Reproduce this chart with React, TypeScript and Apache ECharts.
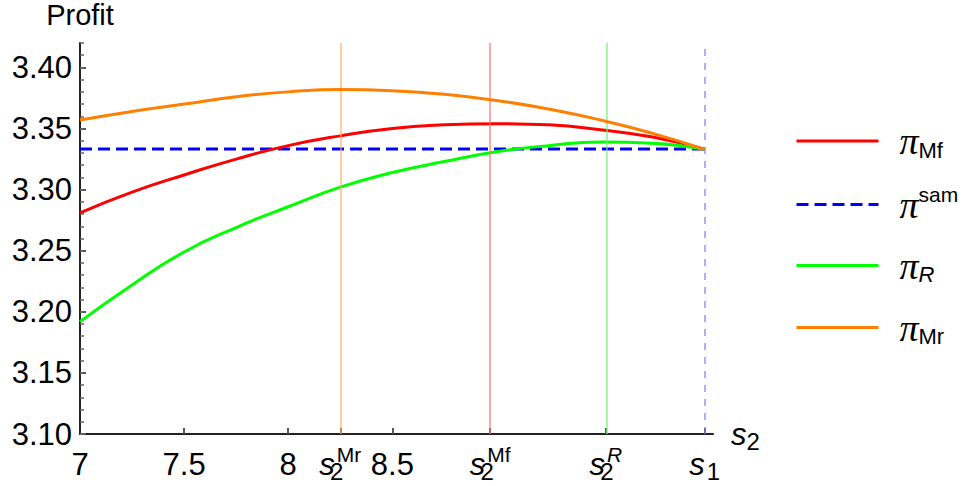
import React, { useEffect, useRef } from 'react';
import * as echarts from 'echarts';

// ---- data ----
const xValues = [7, 7.25, 7.5, 7.75, 8, 8.25, 8.5, 8.75, 9, 9.25, 9.5, 9.75, 10];
const profitMf = [3.281, 3.298, 3.312, 3.325, 3.336, 3.344, 3.350, 3.353, 3.354, 3.353, 3.349, 3.343, 3.333];
const profitSam = [3.3333, 3.3333, 3.3333, 3.3333, 3.3333, 3.3333, 3.3333, 3.3333, 3.3333, 3.3333, 3.3333, 3.3333, 3.3333];
const profitR = [3.192, 3.222, 3.249, 3.269, 3.286, 3.302, 3.314, 3.323, 3.331, 3.336, 3.339, 3.338, 3.333];
const profitMr = [3.357, 3.364, 3.370, 3.376, 3.380, 3.382, 3.381, 3.378, 3.373, 3.366, 3.357, 3.346, 3.333];

const s2Mr = 8.25;
const s2Mf = 8.97;
const s2R = 9.525;
const s1 = 10;

const xTickValues = [7, 7.5, 8, s2Mr, 8.5, s2Mf, s2R, s1];
const xTickLabels = [
  '{n|7}',
  '{n|7.5}',
  '{n|8}',
  '{s|s}{gap| }{sub|2}{sup|Mr}',
  '{n|8.5}',
  '{s|s}{gap| }{sub|2}{sup|Mf}',
  '{s|s}{gap| }{sub|2}{supi|R}',
  '{s|s}{gap| }{subw|1}',
];
const yTickValues = [3.1, 3.15, 3.2, 3.25, 3.3, 3.35, 3.4];

const seriesNames = ['πMf', 'πsam', 'πR', 'πMr'];
const legendLabels = ['{pi|π}{sub|Mf}', '{pi|π}{sup|sam}', '{pi|π}{subi|R}', '{pi|π}{sub|Mr}'];

const SANS = '"Liberation Sans", Arial, sans-serif';
const SERIF = '"Liberation Serif", "DejaVu Serif", serif';

function pairs(ys: number[]) {
  return xValues.map((x, i) => [x, ys[i]]);
}

export default function App() {
  const ref = useRef<HTMLDivElement>(null);

  useEffect(() => {
    if (!ref.current) return;
    const chart = echarts.init(ref.current, undefined, { renderer: 'svg' });

    const vLine = (x: number, color: string, dashed = false) => ({
      silent: true,
      symbol: ['none', 'none'],
      label: { show: false },
      lineStyle: { color, width: 2, type: dashed ? [7, 7] : 'solid' },
      data: [{ xAxis: x }],
    });

    const option: any = {
      animation: false,
      backgroundColor: '#fff',
      textStyle: { fontFamily: SANS },
      grid: { left: 80, right: 266, top: 42, bottom: 52 },
      legend: {
        orient: 'vertical',
        left: 795,
        top: 122,
        padding: 0,
        itemWidth: 82,
        itemHeight: 6,
        itemGap: 23,
        data: seriesNames,
        itemStyle: { opacity: 0 },
        lineStyle: { width: 3 },
        formatter: (name: string) => legendLabels[seriesNames.indexOf(name)],
        textStyle: {
          color: '#000',
          rich: {
            pi: { fontFamily: SERIF, fontStyle: 'italic', fontSize: 38, color: '#000', padding: [0, 0, 0, 16], lineHeight: 42 },
            sub: { fontFamily: SANS, fontSize: 22, color: '#000', verticalAlign: 'bottom', height: 24 },
            subi: { fontFamily: SANS, fontSize: 22, fontStyle: 'italic', color: '#000', verticalAlign: 'bottom', height: 24 },
            sup: { fontFamily: SANS, fontSize: 21, color: '#000', verticalAlign: 'top', height: 22 },
          },
        },
      },
      xAxis: {
        type: 'value',
        min: 7,
        max: 10.04,
        name: '{s|s}{subw|2}',
        nameLocation: 'end',
        nameGap: 18,
        nameTextStyle: {
          rich: {
            s: { fontFamily: SANS, fontSize: 31, fontStyle: 'italic', color: '#000', lineHeight: 40 },
            subw: { fontFamily: SANS, fontSize: 24, color: '#000', verticalAlign: 'bottom', height: 25 },
          },
        },
        axisLine: { show: true, lineStyle: { color: '#222', width: 2 } },
        axisTick: {
          show: true,
          inside: true,
          length: 6,
          customValues: xTickValues.slice(1),
          lineStyle: { color: '#555', width: 2 },
        },
        splitLine: { show: false },
        axisLabel: {
          show: true,
          customValues: xTickValues,
          margin: 10,
          formatter: (v: number) => {
            const i = xTickValues.findIndex((t) => Math.abs(t - v) < 1e-6);
            return i >= 0 ? xTickLabels[i] : '';
          },
          rich: {
            n: { fontFamily: SANS, fontSize: 31, color: '#000', lineHeight: 40 },
            s: { fontFamily: SANS, fontSize: 31, fontStyle: 'italic', color: '#000', lineHeight: 40 },
            gap: { fontFamily: SANS, fontSize: 4, width: 2, color: '#000' },
            sub: { fontFamily: SANS, fontSize: 24, color: '#000', width: 0, verticalAlign: 'bottom', height: 25 },
            subw: { fontFamily: SANS, fontSize: 24, color: '#000', verticalAlign: 'bottom', height: 25 },
            sup: { fontFamily: SANS, fontSize: 21, color: '#000', verticalAlign: 'top', height: 21 },
            supi: { fontFamily: SANS, fontSize: 21, fontStyle: 'italic', color: '#000', verticalAlign: 'top', height: 21 },
          },
        },
      },
      yAxis: [
        {
          type: 'value',
          min: 3.1,
          max: 3.42,
          name: 'Profit',
          nameLocation: 'end',
          nameGap: 14,
          nameTextStyle: { fontFamily: SANS, fontSize: 29, color: '#000', align: 'center' },
          axisLine: { show: true, lineStyle: { color: '#222', width: 2 } },
          axisTick: {
            show: true,
            inside: true,
            length: 6,
            customValues: yTickValues,
            lineStyle: { color: '#555', width: 2 },
          },
          splitLine: { show: false },
          axisLabel: {
            customValues: yTickValues,
            margin: 8,
            fontFamily: SANS,
            fontSize: 31,
            color: '#000',
            formatter: (v: number) => v.toFixed(2),
          },
        },
        {
          type: 'value',
          min: 3.1,
          max: 3.42,
          interval: 0.01,
          position: 'left',
          offset: 0,
          axisLine: { show: false },
          axisLabel: { show: false },
          splitLine: { show: false },
          axisTick: { show: true, inside: true, length: 4, lineStyle: { color: '#666', width: 1.5 } },
        },
      ],
      series: [
        {
          name: seriesNames[0],
          type: 'line',
          smooth: true,
          symbol: 'none',
          data: pairs(profitMf),
          lineStyle: { color: '#ff0000', width: 3 },
          itemStyle: { color: '#ff0000' },
          markLine: vLine(s2Mf, 'rgba(255,110,110,0.6)'),
          z: 4,
        },
        {
          name: seriesNames[1],
          type: 'line',
          symbol: 'none',
          data: pairs(profitSam),
          lineStyle: { color: '#0000ff', width: 3, type: [12, 6] },
          itemStyle: { color: '#0000ff' },
          markLine: vLine(s1, 'rgba(120,120,255,0.6)', true),
          z: 3,
        },
        {
          name: seriesNames[2],
          type: 'line',
          smooth: true,
          symbol: 'none',
          data: pairs(profitR),
          lineStyle: { color: '#00ff00', width: 3 },
          itemStyle: { color: '#00ff00' },
          markLine: vLine(s2R, 'rgba(110,240,110,0.6)'),
          z: 4,
        },
        {
          name: seriesNames[3],
          type: 'line',
          smooth: true,
          symbol: 'none',
          data: pairs(profitMr),
          lineStyle: { color: '#ff8000', width: 3 },
          itemStyle: { color: '#ff8000' },
          markLine: vLine(s2Mr, 'rgba(255,170,100,0.6)'),
          z: 5,
        },
      ],
    };

    chart.setOption(option);
    return () => chart.dispose();
  }, []);

  return (
    <div
      ref={ref}
      style={{ position: 'absolute', left: 0, top: 0, width: 979, height: 486 }}
    />
  );
}
